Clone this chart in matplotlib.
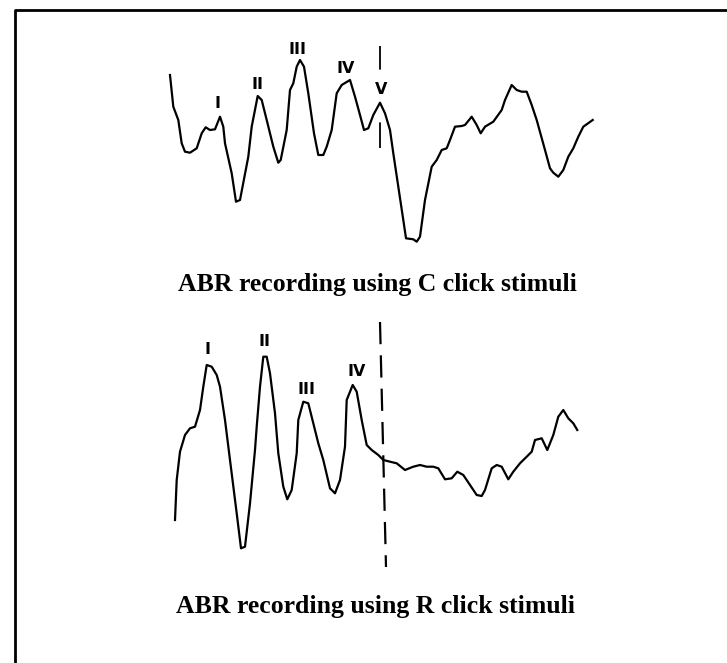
import matplotlib
matplotlib.use("Agg")
import matplotlib.pyplot as plt

plt.rcParams["lines.scale_dashes"] = False

# ABR trace evoked by condensation (C) clicks: latency axis position, deflection
c_latency = [170, 173.3, 178.3, 181.7, 185, 190, 196.7, 201.7, 205.7, 210, 215, 220,
             223.3, 225, 231.7, 236, 240, 248.3, 251.7, 257.7, 261.7, 266.7, 273.3,
             278.3, 280.7, 286.7, 290, 293.3, 296.7, 300, 304, 308.3, 314, 318.3,
             323.3, 326.7, 331.7, 336.7, 341.7, 350, 355, 360, 364, 368.3, 373.3, 380,
             385, 390, 393.3, 398.3, 403.3, 406, 413.3, 416.7, 420, 425, 431.7, 436.7,
             441.7, 446.7, 450, 455, 461.7, 465, 471.7, 476.7, 480.7, 485, 493.3, 501.7,
             505, 511.7, 516.7, 521.7, 526.7, 531.7, 536.7, 545, 550, 553.3, 558.3,
             563.3, 568.3, 573.3, 578.3, 583.3, 592.7]
c_deflection = [75, 106.7, 120, 143.3, 151.7, 152.7, 148.3, 133.3, 127.3, 130, 129.3, 116.7,
                126.7, 143.3, 173.3, 201.7, 200, 156.7, 126.7, 96, 100, 120, 146.7,
                162.7, 160, 130, 90, 83.3, 66.7, 60, 66.7, 93.3, 133.3, 155,
                155, 146.7, 130, 93.3, 85, 80, 96.7, 115, 130, 128.3, 115, 102.7,
                113.3, 130, 153.3, 186.7, 220, 238.3, 239.3, 241.7, 236.7, 200, 166.7, 160,
                150, 148.3, 140, 126.7, 126, 125, 116.7, 125, 133.3, 126.7, 121.7, 110,
                100, 85, 90, 91.7, 91.7, 105, 120, 150, 168.3, 172.7, 176.7,
                170, 156.7, 148.3, 136.7, 126.7, 120]

# ABR trace evoked by rarefaction (R) clicks
r_latency = [175, 176.7, 180, 185, 190, 195, 200, 203.3, 206.7, 211.7, 216.7, 220, 225,
             230, 236.7, 241, 245, 250, 255, 256.7, 260, 263.3, 266.7, 270, 275, 278.3,
             283.3, 287.3, 291.7, 296.7, 298.3, 303.3, 308.3, 313.3, 318.3, 323.3, 330,
             335, 340, 345, 346.7, 352.7, 356.7, 361.7, 366.7, 371.7, 378.3, 383.3, 390,
             396.7, 405, 413.3, 420, 426.7, 433.3, 438.3, 445, 451.7, 457.3, 463.3, 470,
             476.7, 481.7, 485, 491.7, 496.7, 501.7, 508.3, 513.3, 520, 526.7, 531.7,
             535, 541.7, 547.3, 553.3, 558.3, 563.3, 568.3, 573.3, 577.3]
r_deflection = [520, 480, 451.7, 435, 428.3, 426.7, 410, 386.7, 365, 366.7, 375, 386.7, 420,
                460, 513.3, 548.3, 546.7, 503.3, 450, 426.7, 386.7, 356.7, 356.7, 373.3, 413.3, 453.3,
                486.7, 499.3, 490, 453.3, 420, 401.7, 403.3, 423.3, 443.3, 460, 488.3,
                493.3, 480, 446.7, 400, 385, 391.7, 420, 445, 450, 455, 460, 461.7,
                463.3, 470, 466.7, 465, 466.7, 466.7, 468.3, 479.3, 478.3, 471.7, 475, 485,
                495, 496, 490, 468.3, 465, 466.7, 479.3, 471.7, 463.3, 456.7, 451.7,
                440, 438.3, 450, 435, 416.7, 410, 418.3, 423.3, 430]

# Wave labels and their positions
c_waves = ["I", "II", "III", "IV", "V"]
c_wave_x = [218, 257.7, 298, 346, 381]
c_wave_y = [103, 84.5, 50, 68.5, 89.5]
r_waves = ["I", "II", "III", "IV"]
r_wave_x = [208, 265, 306.7, 356.7]
r_wave_y = [349.5, 342, 390, 372]

c_title = "ABR recording using C click stimuli"
r_title = "ABR recording using R click stimuli"

fig = plt.figure(figsize=(7.27, 6.63), dpi=100)
ax = fig.add_axes([0, 0, 1, 1])
ax.set_xlim(0, 727)
ax.set_ylim(663, 0)
ax.axis("off")

ink = "black"
# panel frame (top and left edges)
ax.plot([15, 15, 727], [663, 9.5, 9.5], color=ink, lw=2.0, solid_capstyle="butt")

ax.plot(c_latency, c_deflection, color=ink, lw=1.6, solid_joinstyle="round")
ax.plot(r_latency, r_deflection, color=ink, lw=1.6, solid_joinstyle="round")

# wave V latency markers
ax.plot([380, 380], [46, 148], color=ink, lw=1.3, linestyle=(0, (17, 38, 25, 4)))
ax.plot([380, 386], [322, 567], color=ink, lw=1.6, linestyle=(0, (16, 8)))

label_font = dict(family=["Liberation Sans Narrow", "DejaVu Sans"], weight="bold",
                  fontsize=11.5, ha="center", va="center", color=ink)
for t, x, y in zip(c_waves, c_wave_x, c_wave_y):
    ax.text(x, y, t, **label_font)
for t, x, y in zip(r_waves, r_wave_x, r_wave_y):
    ax.text(x, y, t, **label_font)

title_font = dict(family=["Liberation Serif", "DejaVu Serif"], weight="bold",
                  fontsize=18.5, ha="center", va="center", color=ink)
ax.text(377.5, 285, c_title, **title_font)
ax.text(376, 606, r_title, **title_font)

fig.savefig("out.png", dpi=100, facecolor="white")
